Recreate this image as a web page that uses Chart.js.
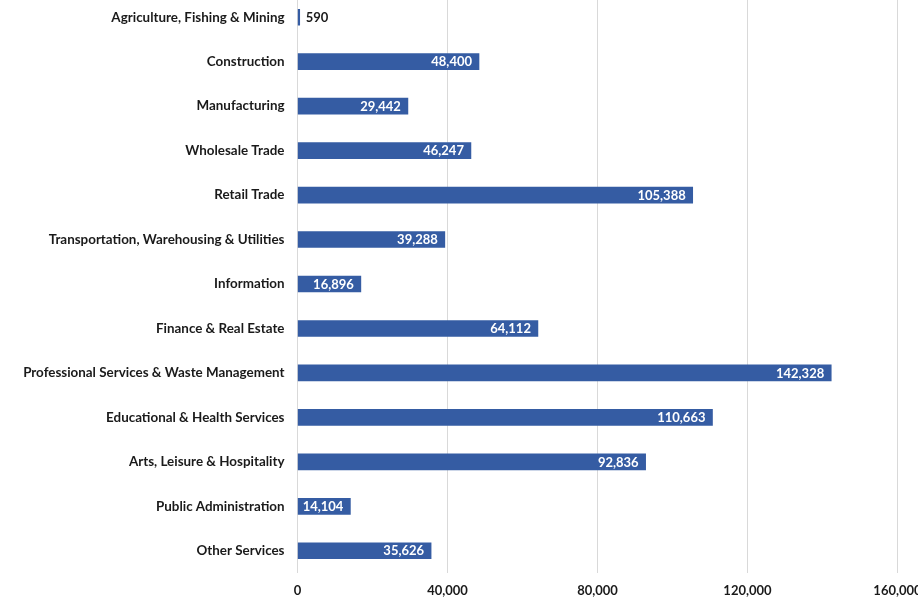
<!DOCTYPE html>
<html lang="en">
<head>
  <meta charset="UTF-8">
  <title>Employment by industry</title>
  <script src="https://cdn.jsdelivr.net/npm/chart.js"></script>
  <style>
    html, body { margin: 0; padding: 0; overflow: hidden; background: #fff; }
    .wrap { position: absolute; left: 0; top: -5px; width: 960px; height: 604px; }
  </style>
</head>
<body>
  <div class="wrap">
    <canvas id="chart" width="960" height="604"></canvas>
  </div>

  <script>
    const industries = [
      'Agriculture, Fishing & Mining',
      'Construction',
      'Manufacturing',
      'Wholesale Trade',
      'Retail Trade',
      'Transportation, Warehousing & Utilities',
      'Information',
      'Finance & Real Estate',
      'Professional Services & Waste Management',
      'Educational & Health Services',
      'Arts, Leisure & Hospitality',
      'Public Administration',
      'Other Services'
    ];
    const jobs = [590, 48400, 29442, 46247, 105388, 39288, 16896, 64112, 142328, 110663, 92836, 14104, 35626];
    const xTicks = [0, 40000, 80000, 120000, 160000];

    const fmt = v => v.toLocaleString('en-US');
    const FONT = 'Lato, "Open Sans", sans-serif';

    // labels at the end of each bar (inside in white, outside when too short)
    const barLabels = {
      id: 'barLabels',
      afterDatasetsDraw(chart) {
        const ctx = chart.ctx;
        const meta = chart.getDatasetMeta(0);
        ctx.save();
        ctx.font = 'bold 13px ' + FONT;
        ctx.textBaseline = 'middle';
        meta.data.forEach((bar, i) => {
          const txt = fmt(jobs[i]);
          const w = ctx.measureText(txt).width;
          if (bar.x - bar.base > w + 8) {
            ctx.fillStyle = '#ffffff';
            ctx.textAlign = 'right';
            ctx.fillText(txt, bar.x - 7, bar.y + 0.5);
          } else {
            ctx.fillStyle = '#1a1a1a';
            ctx.textAlign = 'left';
            ctx.fillText(txt, bar.x + 6, bar.y + 0.5);
          }
        });
        ctx.restore();
      }
    };

    new Chart(document.getElementById('chart').getContext('2d'), {
      type: 'bar',
      data: {
        labels: industries,
        datasets: [{
          data: jobs,
          backgroundColor: '#355ca3',
          barThickness: 16,
          minBarLength: 2
        }]
      },
      options: {
        indexAxis: 'y',
        responsive: false,
        animation: false,
        layout: { padding: { left: 0, right: 62.5, top: 0, bottom: 0 } },
        scales: {
          x: {
            min: 0,
            max: 160000,
            afterBuildTicks: s => { s.ticks = xTicks.map(v => ({ value: v })); },
            afterFit: s => { s.height = 26; s.paddingLeft = 0; s.paddingRight = 0; },
            grid: { color: '#d9d9d9', lineWidth: 1, drawTicks: false },
            border: { display: false },
            ticks: {
              padding: 10,
              color: '#1a1a1a',
              font: { family: FONT, size: 13, weight: 'bold' },
              callback: v => fmt(v)
            }
          },
          y: {
            afterFit: s => { s.width = 297.5; s.paddingTop = 0; s.paddingBottom = 0; },
            grid: { display: false, drawTicks: false },
            border: { display: false },
            ticks: {
              padding: 13,
              color: '#1a1a1a',
              font: { family: FONT, size: 13.4, weight: 'bold' }
            }
          }
        },
        plugins: { legend: { display: false }, tooltip: { enabled: false } }
      },
      plugins: [barLabels]
    });
  </script>
</body>
</html>
